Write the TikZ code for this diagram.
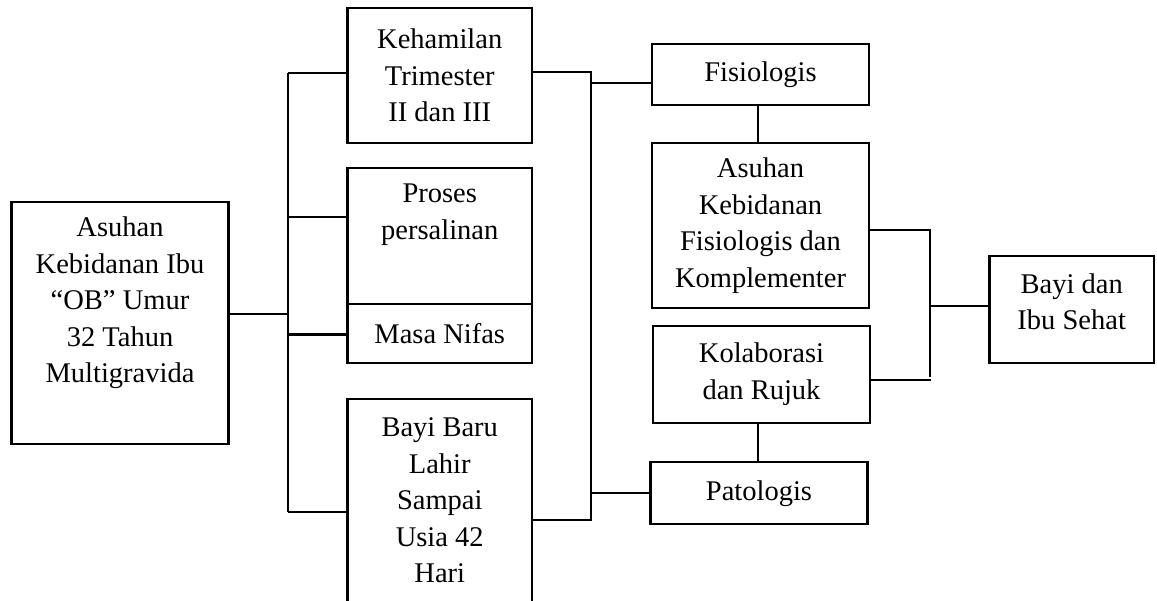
\documentclass[tikz,border=0pt]{standalone}
\usepackage{fontspec}
\setmainfont{Liberation Serif}
\begin{document}
\begin{tikzpicture}[x=1pt,y=-1pt,
  box/.style={draw, line width=2.2pt, inner sep=0pt},
  txt/.style={align=center, font=\fontsize{28.5}{36.5}\selectfont, inner sep=0pt},
  link/.style={line width=2.2pt}]
\clip (0,0) rectangle (1157,600);
\fill[white] (0,0) rectangle (1157,600);
% left column
\node[box, minimum width=217pt, minimum height=242.3pt] (main) at (120,322.8) {};
\node[txt] (mainT) at (120,303) {Asuhan\\Kebidanan Ibu\\“OB” Umur\\32 Tahun\\Multigravida};
% middle column
\node[box, txt, minimum width=184.5pt, minimum height=134.4pt] (keh) at (439.75,75.5) {Kehamilan\\Trimester\\II dan III};
\node[box, minimum width=184.5pt, minimum height=135.7pt] (pros) at (439.75,236.2) {};
\node[txt] (prosT) at (439.75,214.5) {Proses\\persalinan};
\node[box, txt, minimum width=184.5pt, minimum height=59.3pt] (nifas) at (439.75,333.7) {Masa Nifas};
\node[box, minimum width=184.5pt, minimum height=260pt] (bbl) at (439.75,529.3) {};
\node[txt] (bblT) at (439.75,500.5) {Bayi Baru\\Lahir\\Sampai\\Usia 42\\Hari};
% right column
\node[box, txt, minimum width=217pt, minimum height=60.7pt] (fis) at (760.5,74.7) {Fisiologis};
\node[box, txt, minimum width=217pt, minimum height=165.6pt] (askeb) at (760.5,225.5) {Asuhan\\Kebidanan\\Fisiologis dan\\Komplementer};
\node[box, txt, minimum width=217pt, minimum height=96.7pt] (kolab) at (761.5,374.3) {Kolaborasi\\dan Rujuk};
\node[box, txt, minimum width=217pt, minimum height=61.7pt] (pato) at (759,493.2) {Patologis};
\node[box, minimum width=164.5pt, minimum height=107.3pt] (bis) at (1071.7,309.7) {};
\node[txt] (bisT) at (1071.7,301.5) {Bayi dan\\Ibu Sehat};
% left bus
\coordinate (lbT) at (288,73);
\coordinate (lbB) at (288,512);
\draw[link] (lbT) -- (lbB);
\draw[link] (main.east |- 0,314) -- (288,314);
\draw[link] (lbT) -- (keh.west |- lbT);
\draw[link] (288,217.3) -- (pros.west |- 0,217.3);
\draw[link] (288,334.5) -- (nifas.west |- 0,334.5);
\draw[link] (lbB) -- (bbl.west |- lbB);
% right bus
\coordinate (rbT) at (591,72.3);
\coordinate (rbB) at (591,520);
\draw[link] (keh.east |- rbT) -- (rbT) -- (rbB) -- (bbl.east |- rbB);
\draw[link] (591,83.3) -- (fis.west |- 0,83.3);
\draw[link] (591,492.7) -- (pato.west |- 0,492.7);
% vertical links
\draw[link] (fis.south -| 758,0) -- (askeb.north -| 758,0);
\draw[link] (kolab.south -| 758,0) -- (pato.north -| 758,0);
% join to outcome
\coordinate (jT) at (930,230);
\coordinate (jB) at (930,377);
\draw[link] (askeb.east |- jT) -- (jT) -- (jB);
\draw[link] (kolab.east |- 0,380) -- (931.1,380);
\draw[link] (930,306) -- (bis.west |- 0,306);
\end{tikzpicture}
\end{document}
